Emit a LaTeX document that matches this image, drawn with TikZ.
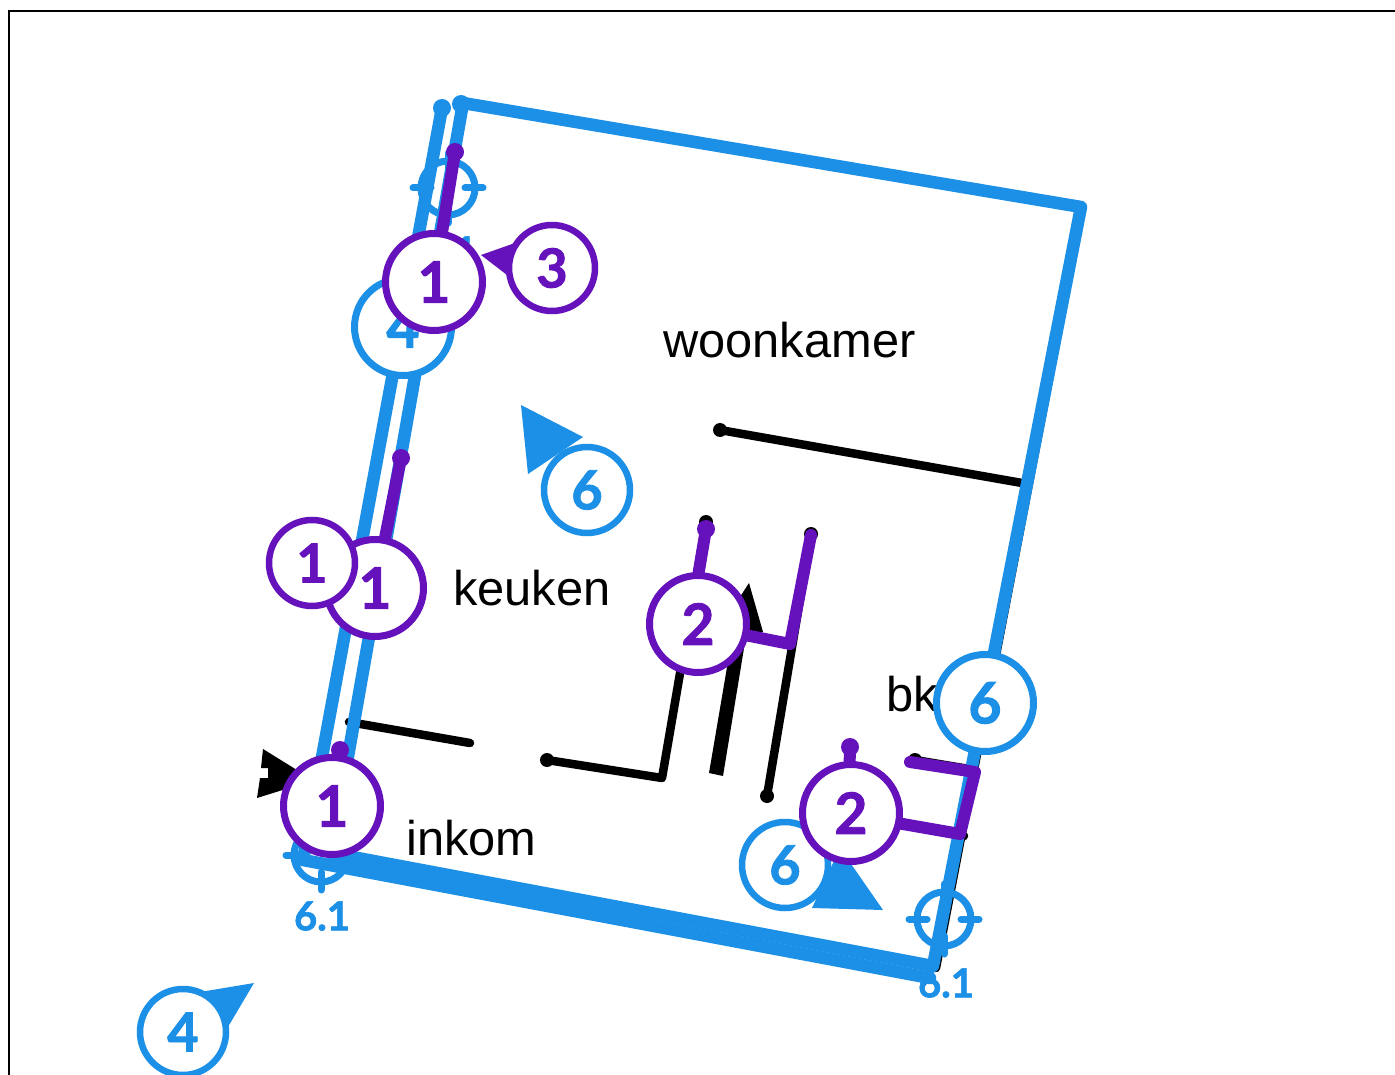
\documentclass[tikz,border=0pt]{standalone}
\usepackage{fontspec}
\setmainfont{Liberation Sans}
\newfontfamily\numfont[BoldFont={Lato Bold},BoldFeatures={FakeBold=1.6}]{Lato}
\definecolor{wblue}{HTML}{1C8FE6}
\definecolor{wpurple}{HTML}{6612BC}
\tikzset{
  bigmark/.style={circle,draw,fill=white,line width=7pt,minimum size=97pt,inner sep=0pt,font=\fontsize{57}{57}\selectfont\numfont\bfseries},
  smallmark/.style={circle,draw,fill=white,line width=6.5pt,minimum size=86pt,inner sep=0pt,font=\fontsize{54}{54}\selectfont\numfont\bfseries},
  pmark/.style={text=wpurple,draw=wpurple},
  bmark/.style={text=wblue,draw=wblue},
  room/.style={anchor=base west,inner sep=0pt,font=\fontsize{48.8}{49}\selectfont,text=black},
  tlabel/.style={inner sep=0pt,text=wblue,font=\fontsize{40}{40}\selectfont\numfont\bfseries},
  wall/.style={line width=8.5pt,black,line cap=round,line join=round},
  bwall/.style={line width=12.5pt,wblue,line cap=round,line join=round},
  pwall/.style={line width=12pt,wpurple,line cap=round,line join=round},
  target/.style={line width=7pt,wblue},
}
\newcommand{\crosshair}[1]{%
  \draw[target] (#1) circle (27);
  \draw[target,line cap=round] ($(#1)+(-35,0)$) -- ($(#1)+(-17,0)$) ($(#1)+(17,0)$) -- ($(#1)+(35,0)$)
    ($(#1)+(0,-35)$) -- ($(#1)+(0,-17)$) ($(#1)+(0,17)$) -- ($(#1)+(0,35)$);}
\usetikzlibrary{calc}
\begin{document}
\begin{tikzpicture}[x=1pt,y=-1pt]
\useasboundingbox (0,0) rectangle (1395,1075);
\fill[white] (0,0) rectangle (1395,1075);
\draw[line width=2.5pt,black] (9,1075) -- (9,11) -- (1395,11);

% room names
\node[room] (woon) at (663,357) {woonkamer};
\node[room] (keuk) at (453,605) {keuken};
\node[room] (ink) at (406,855) {inkom};
\node[room] (bk) at (886,711) {bk};

% black walls
\coordinate (a1) at (720,430); \coordinate (a2) at (1022,483);
\coordinate (b1) at (706,522); \coordinate (b2) at (662,778); \coordinate (b3) at (547,760);
\coordinate (c1) at (811,534); \coordinate (c2) at (767,796);
\coordinate (d1) at (349,722); \coordinate (d2) at (470,743);
\coordinate (e1) at (915,760); \coordinate (e2) at (975,770);
\coordinate (f1) at (900,823); \coordinate (f2) at (964,836);
\coordinate (g1) at (851,746); \coordinate (g2) at (848,775);
\coordinate (h1) at (1082,207); \coordinate (h2) at (936,968);
\coordinate (h3) at (335,853);
\draw[wall] (a1) -- (a2);
\draw[wall] (b1) -- (b2) -- (b3);
\draw[wall] (c1) -- (c2);
\draw[wall] (d1) -- (d2);
\draw[wall] (e1) -- (e2);
\draw[wall] (f1) -- (f2);
\draw[wall] (g1) -- (g2);
\draw[wall] (h1) -- (h2) -- (h3);
\foreach \p in {a1,b1,b3,c1,c2,e1,g1} \fill[black] (\p) circle (7);

% black door arrow and entrance arrow
\fill[black] (709,773) -- (723,776) -- (746,636) -- (763,632) -- (749,583) -- (725,620) -- (733,632) -- cycle;
\fill[black] (263,749) -- (261,768) -- (268,768) -- (268,778) -- (260,778) -- (257,798) -- (305,783) -- (305,775) -- cycle;

% targets
\coordinate (t1) at (448,188); \coordinate (t2) at (321,855); \coordinate (t3) at (944,919);
\crosshair{t1}\crosshair{t2}\crosshair{t3}
\node[tlabel] (l1) at (449,251) {6.1};
\node[tlabel] (l2) at (322,916) {6.1};
\node[tlabel] (l3) at (946,983) {6.1};

% blue walls
\coordinate (w1) at (463,103); \coordinate (w2) at (1081,207); \coordinate (w3) at (933,966);
\coordinate (w4) at (331,853); \coordinate (w5) at (930,978); \coordinate (w6) at (303,860);
\coordinate (w7) at (442,108);
\draw[bwall] (w7) -- (w6) -- (w5);
\draw[bwall] (w1) -- (w2) -- (w3) -- (w4) -- cycle;
\fill[wblue] (w7) circle (9);
\fill[wblue] (461,104) circle (9);

% blue arrowheads
\fill[wblue] (521,405) -- (583,437) -- (528,474) -- cycle;
\fill[wblue] (840,848) -- (883,910) -- (812,908) -- cycle;
\fill[wblue] (254,983) -- (200,992) -- (225,1032) -- cycle;

% blue marks
\node[bigmark,bmark] (n4a) at (403,327) {\raisebox{-2pt}{4}};
\node[smallmark,bmark] (n6a) at (587,490) {\raisebox{-2pt}{6}};
\node[smallmark,bmark] (n6b) at (785,865) {\raisebox{-2pt}{6}};
\node[smallmark,bmark] (n4b) at (183,1032) {\raisebox{-2pt}{4}};
\node[bigmark,bmark] (n6c) at (985,703) {\raisebox{-2pt}{6}};

% purple connectors
\coordinate (p1) at (455,152); \coordinate (p2) at (401,458);
\coordinate (p3) at (706,529); \coordinate (p4) at (694,600);
\coordinate (p5) at (811,535); \coordinate (p6) at (790,644); \coordinate (p7) at (720,630);
\coordinate (p8) at (850,747); \coordinate (p9) at (849,790);
\coordinate (p10) at (910,762); \coordinate (p11) at (975,772); \coordinate (p12) at (960,834); \coordinate (p13) at (880,820);
\coordinate (p14) at (340,750);
\draw[pwall] (p1) -- (434,282);
\draw[pwall] (p2) -- (375,588);
\draw[pwall] (p3) -- (p4);
\draw[pwall] (p5) -- (p6) -- (p7);
\draw[pwall] (p8) -- (p9);
\draw[pwall] (p10) -- (p11) -- (p12) -- (p13);
\draw[pwall] (p14) -- (332,806);
\foreach \p in {p1,p2,p3,p8,p14} \fill[wpurple] (\p) circle (9);

% purple arrowheads
\fill[wpurple] (481,255) -- (515,243) -- (507,275) -- cycle;
\fill[wpurple] (350,541) -- (368,552) -- (355,559) -- cycle;

% purple marks
\node[bigmark,pmark] (m1c) at (375,588) {\raisebox{-2pt}{1}};
\node[smallmark,pmark] (m1b) at (312,563) {\raisebox{-2pt}{1}};
\node[bigmark,pmark] (m1a) at (434,282) {\raisebox{-2pt}{1}};
\node[smallmark,pmark] (m3) at (552,268) {\raisebox{-2pt}{3}};
\node[bigmark,pmark] (m2a) at (698,624) {\raisebox{-2pt}{2}};
\node[bigmark,pmark] (m2b) at (851,813) {\raisebox{-2pt}{2}};
\node[bigmark,pmark] (m1d) at (332,806) {\raisebox{-2pt}{1}};
\end{tikzpicture}
\end{document}
